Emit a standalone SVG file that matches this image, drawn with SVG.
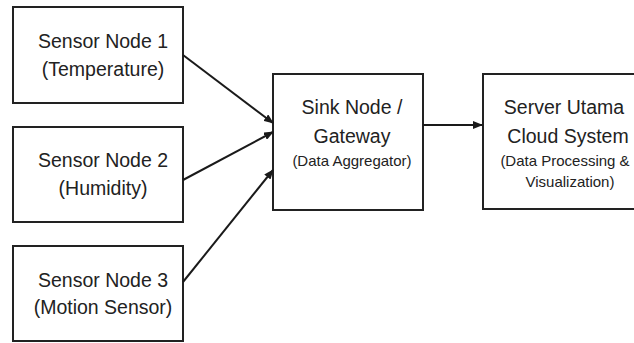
<svg xmlns="http://www.w3.org/2000/svg" width="634" height="343" viewBox="0 0 634 343">
<defs>
<marker id="arr" markerWidth="10" markerHeight="8" refX="9" refY="4" orient="auto" markerUnits="userSpaceOnUse">
<path d="M0,0 L10,4 L0,8 Z" fill="#1a1a1a"/>
</marker>
<style>
.box{fill:#fff;stroke:#222;stroke-width:2}
.t{font-family:"Liberation Sans",Arial,sans-serif;fill:#222;text-anchor:middle}
.big{font-size:19.5px}
.sm{font-size:15px}
.c{stroke:#1a1a1a;stroke-width:2;fill:none;marker-end:url(#arr)}
</style>
</defs>
<rect width="634" height="343" fill="#fff"/>
<g id="sensor1">
<rect class="box" x="13" y="7" width="170" height="96"/>
<text class="t big" x="103" y="48">Sensor Node 1</text>
<text class="t big" x="103" y="76">(Temperature)</text>
</g>
<g id="sensor2">
<rect class="box" x="13" y="127" width="170" height="95"/>
<text class="t big" x="103" y="167">Sensor Node 2</text>
<text class="t big" x="103" y="195">(Humidity)</text>
</g>
<g id="sensor3">
<rect class="box" x="13" y="246" width="170" height="95"/>
<text class="t big" x="103" y="287">Sensor Node 3</text>
<text class="t big" x="103" y="314">(Motion Sensor)</text>
</g>
<g id="sink">
<rect class="box" x="273" y="74" width="150" height="136"/>
<text class="t big" x="352" y="114">Sink Node /</text>
<text class="t big" x="352" y="143">Gateway</text>
<text class="t sm" x="352" y="166">(Data Aggregator)</text>
</g>
<g id="server">
<rect class="box" x="483" y="74" width="170" height="135"/>
<text class="t big" x="564" y="114">Server Utama</text>
<text class="t big" x="568" y="143">Cloud System</text>
<text class="t sm" x="565" y="166">(Data Processing &amp;</text>
<text class="t sm" x="570" y="187">Visualization)</text>
</g>
<g id="connectors">
<line class="c" x1="183" y1="55" x2="273" y2="123"/>
<line class="c" x1="183" y1="180" x2="273" y2="132"/>
<line class="c" x1="183" y1="282" x2="273" y2="170"/>
<line class="c" x1="423" y1="125" x2="482" y2="125"/>
</g>
</svg>
